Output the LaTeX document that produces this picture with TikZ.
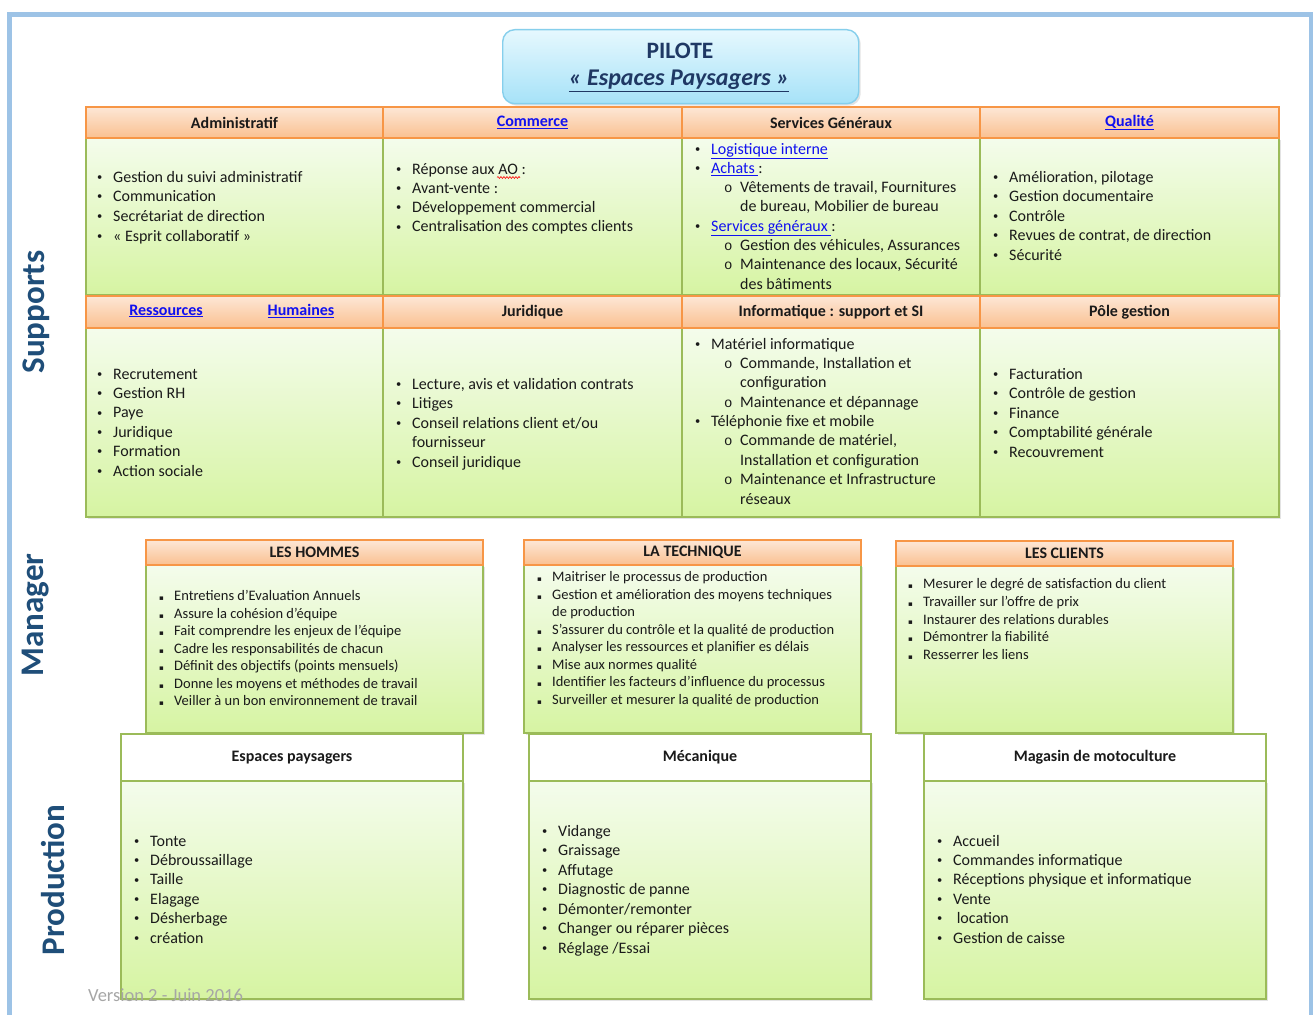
\documentclass[tikz,border=0pt]{standalone}
\usepackage{fontspec}
\setmainfont{Carlito}
\newfontfamily\monof{Liberation Mono}
\newfontfamily\djv{DejaVu Sans}
\usetikzlibrary{shadows,decorations.pathmorphing}
\definecolor{framec}{HTML}{9DC3E6}
\definecolor{hdrtop}{HTML}{FDE7D6}
\definecolor{hdrbot}{HTML}{FAC090}
\definecolor{hdrline}{HTML}{F79646}
\definecolor{bodtop}{HTML}{F4FCEC}
\definecolor{bodbot}{HTML}{D6F4A2}
\definecolor{bodline}{HTML}{9BBB59}
\definecolor{piltop}{HTML}{E6F8FE}
\definecolor{pilbot}{HTML}{A6E2F8}
\definecolor{pilline}{HTML}{86CFEC}
\definecolor{navy}{HTML}{1F3864}
\definecolor{sidec}{HTML}{1F4E79}
\definecolor{linkc}{HTML}{1010F0}
\definecolor{txtc}{HTML}{1A1A1A}
\definecolor{verc}{HTML}{A6A6A6}
\newcommand\BL[1]{\makebox[16pt][l]{\raisebox{1.8pt}{\fontsize{10.5}{10.5}\selectfont •}}#1}
\newcommand\SBL[1]{\hspace*{29pt}\makebox[16pt][l]{\monof\fontsize{14}{14}\selectfont o}#1}
\newcommand\CTL[1]{\hspace*{45pt}#1}
\newcommand\CTB[1]{\hspace*{16pt}#1}
\newcommand\SQ[1]{\makebox[15pt][l]{\djv\fontsize{7}{7}\selectfont ▪}#1}
\newcommand\CTS[1]{\hspace*{15pt}#1}
\newcommand\lk[1]{\textcolor{linkc}{\underline{#1}}}
\newcommand\items[6]{% style, name, x, y0, dy, list
  \foreach \itm [count=\i] in {#6} {\node[#1] (#2-\i) at (#3, {#4+(\i-1)*#5}) {\itm};}}
\tikzset{
  txt/.style={font=\fontsize{16}{19}\selectfont, inner sep=0pt, anchor=base west, text=txtc},
  mtxt/.style={font=\fontsize{14.5}{17}\selectfont, inner sep=0pt, anchor=base west, text=txtc},
  hdrbox/.style={draw=hdrline, line width=1.4pt, top color=hdrtop, bottom color=hdrbot,
    anchor=north west, inner sep=0pt, outer sep=0pt,
    font=\fontsize{16}{19}\selectfont\bfseries, text=txtc},
  bodbox/.style={draw=bodline, line width=1.4pt, top color=bodtop, bottom color=bodbot,
    anchor=north west, inner sep=0pt, outer sep=0pt,
    drop shadow={opacity=0.22, shadow xshift=2pt, shadow yshift=-2pt}},
  whbox/.style={draw=bodline, line width=1.6pt, fill=white,
    anchor=north west, inner sep=0pt, outer sep=0pt,
    font=\fontsize{16}{19}\selectfont\bfseries, text=txtc},
  side/.style={rotate=90, font=\fontsize{33}{36}\selectfont\bfseries, text=sidec, inner sep=0pt},
}
\begin{document}
\begin{tikzpicture}[x=1pt,y=-1pt]
\useasboundingbox (0,0) rectangle (1313,1014);
\fill[white] (0,0) rectangle (1313,1014);
% frame
\draw[framec, line width=5pt] (9.5,1030) -- (9.5,14.5) -- (1311,14.5) -- (1311,1030);

% PILOTE
\node[draw=pilline, line width=1.4pt, rounded corners=12pt, top color=piltop, bottom color=pilbot,
  minimum width=356pt, minimum height=74pt, anchor=north west, inner sep=0pt,
  drop shadow={opacity=0.22, shadow xshift=2pt, shadow yshift=-2pt}] (pilote) at (502,29) {};
\node[font=\fontsize{23.5}{28}\selectfont\bfseries, text=navy, inner sep=0pt] (pt1) at (680,51) {PILOTE};
\node[font=\fontsize{24}{28}\selectfont\bfseries\itshape, text=navy, inner sep=0pt] (pt2) at (679,81) {\underline{«~Espaces Paysagers~»}};

% side labels
\node[side] (sup) at (36,312) {Supports};
\node[side] (man) at (36,615) {Manager};
\node[side] (prod) at (53,880) {Production};

% ===== Supports grid =====
\node[bodbox, minimum width=297pt, minimum height=157pt] (adm-b) at (86,138) {};
\node[bodbox, minimum width=299pt, minimum height=157pt] (com-b) at (383,138) {};
\node[bodbox, minimum width=298pt, minimum height=157pt] (sg-b) at (682,138) {};
\node[bodbox, minimum width=299pt, minimum height=157pt] (qua-b) at (980,138) {};
\node[hdrbox, minimum width=297pt, minimum height=31pt] (adm-h) at (86,107) {Administratif};
\node[hdrbox, minimum width=299pt, minimum height=31pt] (com-h) at (383,107) {\lk{Commerce}};
\node[hdrbox, minimum width=298pt, minimum height=31pt] (sg-h) at (682,107) {Services Généraux};
\node[hdrbox, minimum width=299pt, minimum height=31pt] (qua-h) at (980,107) {\lk{Qualité}};
\node[bodbox, minimum width=297pt, minimum height=189pt] (rh-b) at (86,328) {};
\node[bodbox, minimum width=299pt, minimum height=189pt] (jur-b) at (383,328) {};
\node[bodbox, minimum width=298pt, minimum height=189pt] (inf-b) at (682,328) {};
\node[bodbox, minimum width=299pt, minimum height=189pt] (pol-b) at (980,328) {};
\node[hdrbox, minimum width=297pt, minimum height=32pt] (rh-h) at (86,296) {};
\node[font=\fontsize{16}{19}\selectfont\bfseries, inner sep=0pt] (rh-h1) at (166,311) {\lk{Ressources}};
\node[font=\fontsize{16}{19}\selectfont\bfseries, inner sep=0pt] (rh-h2) at (301,311) {\lk{Humaines}};
\node[hdrbox, minimum width=299pt, minimum height=32pt] (jur-h) at (383,296) {Juridique};
\node[hdrbox, minimum width=298pt, minimum height=32pt] (inf-h) at (682,296) {Informatique : support et SI};
\node[hdrbox, minimum width=299pt, minimum height=32pt] (pol-h) at (980,296) {Pôle gestion};

\items{txt}{adm}{97}{182}{19.67}{\BL{Gestion du suivi administratif},\BL{Communication},\BL{Secrétariat de direction},\BL{«~Esprit collaboratif~»}}
\items{txt}{com}{396}{174}{19.33}{\BL{Réponse aux AO :},\BL{Avant-vente :},\BL{Développement commercial},\BL{Centralisation des comptes clients}}
\draw[red, line width=0.6pt, decorate, decoration={snake, amplitude=0.9pt, segment length=3pt}] (497,177.5) -- (520,177.5);
\items{txt}{sg}{695}{154}{19.29}{\BL{\lk{Logistique interne}},\BL{\lk{Achats\ }:},{\SBL{Vêtements de travail, Fournitures}},{\CTL{de bureau, Mobilier de bureau}},\BL{\lk{Services généraux\ }:},{\SBL{Gestion des véhicules, Assurances}},{\SBL{Maintenance des locaux, Sécurité}},\CTL{des bâtiments}}
\items{txt}{qua}{993}{182}{19.5}{{\BL{Amélioration, pilotage}},\BL{Gestion documentaire},\BL{Contrôle},{\BL{Revues de contrat, de direction}},\BL{Sécurité}}
\items{txt}{rh}{97}{379}{19.4}{\BL{Recrutement},\BL{Gestion RH},\BL{Paye},\BL{Juridique},\BL{Formation},\BL{Action sociale}}
\items{txt}{jur}{396}{389}{19.5}{{\BL{Lecture, avis et validation contrats}},\BL{Litiges},\BL{Conseil relations client et/ou},\CTB{fournisseur},\BL{Conseil juridique}}
\items{txt}{inf}{695}{349}{19.375}{\BL{Matériel informatique},{\SBL{Commande, Installation et}},\CTL{configuration},\SBL{Maintenance et dépannage},\BL{Téléphonie fixe et mobile},{\SBL{Commande de matériel,}},\CTL{Installation et configuration},\SBL{Maintenance et Infrastructure},\CTL{réseaux}}
\items{txt}{pol}{993}{379}{19.5}{\BL{Facturation},\BL{Contrôle de gestion},\BL{Finance},\BL{Comptabilité générale},\BL{Recouvrement}}

% ===== Manager =====
\node[bodbox, minimum width=337pt, minimum height=168pt] (hom-b) at (146,565) {};
\node[hdrbox, minimum width=337pt, minimum height=25pt] (hom-h) at (146,540) {LES HOMMES};
\node[bodbox, minimum width=337pt, minimum height=168pt] (tec-b) at (524,565) {};
\node[hdrbox, minimum width=337pt, minimum height=25pt] (tec-h) at (524,540) {LA TECHNIQUE};
\node[bodbox, minimum width=337pt, minimum height=167pt] (cli-b) at (896,566) {};
\node[hdrbox, minimum width=337pt, minimum height=25pt] (cli-h) at (896,541) {LES CLIENTS};

\items{mtxt}{hom}{159}{600.5}{17.5}{\SQ{Entretiens d’Evaluation Annuels},\SQ{Assure la cohésion d’équipe},\SQ{Fait comprendre les enjeux de l’équipe},\SQ{Cadre les responsabilités de chacun},\SQ{Définit des objectifs (points mensuels)},\SQ{Donne les moyens et méthodes de travail},\SQ{Veiller à un bon environnement de travail}}
\items{mtxt}{tec}{537}{581.5}{17.57}{\SQ{Maitriser le processus de production},\SQ{Gestion et amélioration des moyens techniques},\CTS{de production},\SQ{S’assurer du contrôle et la qualité de production},\SQ{Analyser les ressources et planifier es délais},\SQ{Mise aux normes qualité},\SQ{Identifier les facteurs d’influence du processus},\SQ{Surveiller et mesurer la qualité de production}}
\items{mtxt}{cli}{908}{588.5}{17.75}{\SQ{Mesurer le degré de satisfaction du client},\SQ{Travailler sur l’offre de prix},\SQ{Instaurer des relations durables},\SQ{Démontrer la fiabilité},\SQ{Resserrer les liens}}

% ===== Production =====
\node[bodbox, minimum width=342pt, minimum height=218pt] (esp-b) at (121,781) {};
\node[whbox, minimum width=342pt, minimum height=47pt] (esp-h) at (121,734) {Espaces paysagers};
\node[bodbox, minimum width=342pt, minimum height=218pt] (mec-b) at (529,781) {};
\node[whbox, minimum width=342pt, minimum height=47pt] (mec-h) at (529,734) {Mécanique};
\node[bodbox, minimum width=342pt, minimum height=218pt] (mag-b) at (924,781) {};
\node[whbox, minimum width=342pt, minimum height=47pt] (mag-h) at (924,734) {Magasin de motoculture};

\items{txt}{esp}{134}{846}{19.4}{\BL{Tonte},\BL{Débroussaillage},\BL{Taille},\BL{Elagage},\BL{Désherbage},\BL{création}}
\items{txt}{mec}{542}{836}{19.5}{\BL{Vidange},\BL{Graissage},\BL{Affutage},\BL{Diagnostic de panne},\BL{Démonter/remonter},\BL{Changer ou réparer pièces},\BL{Réglage /Essai}}
\items{txt}{mag}{937}{846}{19.4}{\BL{Accueil},\BL{Commandes informatique},\BL{Réceptions physique et informatique},\BL{Vente},\BL{\ location},\BL{Gestion de caisse}}

\node[font=\fontsize{18.5}{22}\selectfont, text=verc, inner sep=0pt, anchor=base west] (ver) at (88,1001) {Version 2 - Juin 2016};
\end{tikzpicture}
\end{document}
